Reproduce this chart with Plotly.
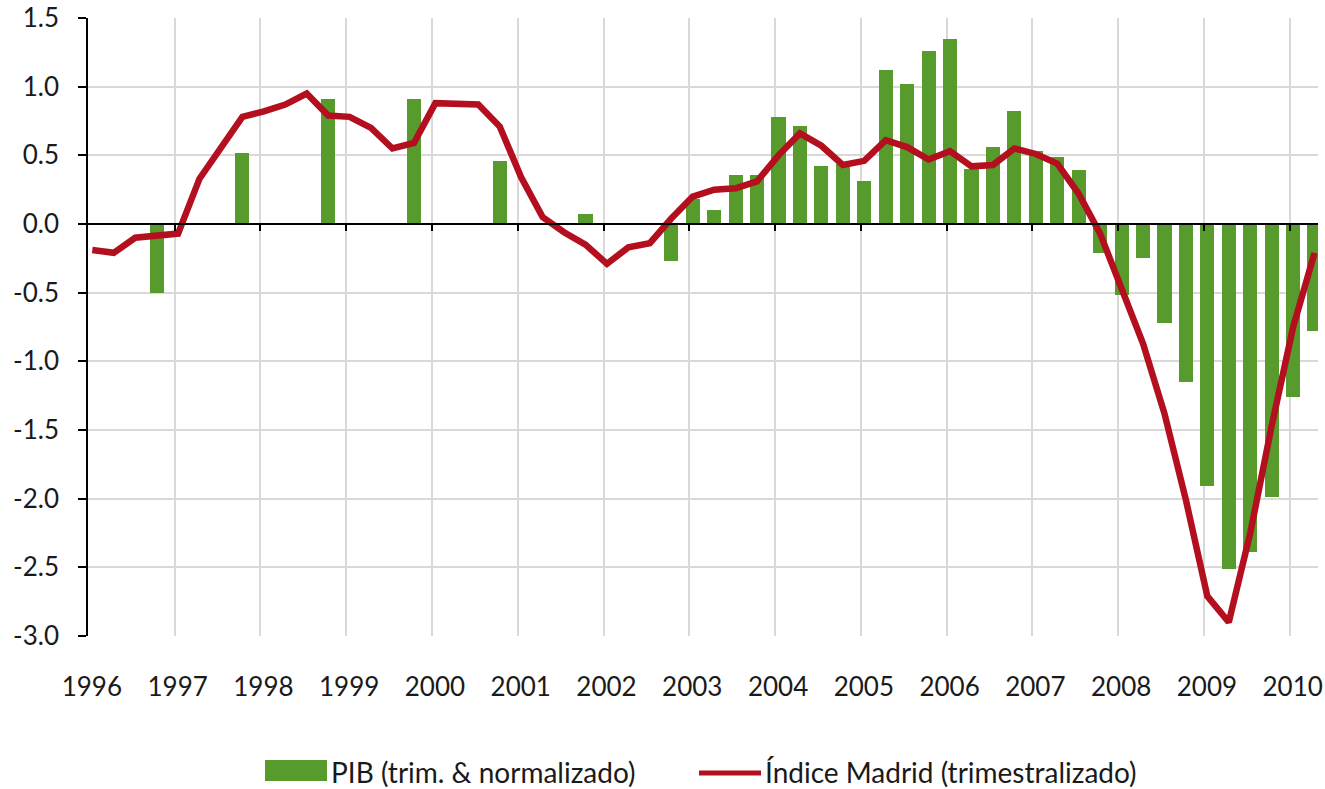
import plotly.graph_objects as go

# ---------------- data ----------------
quarters = [f"{y}Q{q}" for y in range(1996, 2011) for q in range(1, 5)][:58]

madrid = [
    -0.19, -0.21, -0.10, -0.08,   # 1996
    -0.07, 0.33, 0.56, 0.78,      # 1997
    0.82, 0.87, 0.95, 0.79,       # 1998
    0.78, 0.70, 0.55, 0.59,       # 1999
    0.88, 0.88, 0.87, 0.71,       # 2000
    0.34, 0.05, -0.06, -0.15,     # 2001
    -0.29, -0.17, -0.14, 0.04,    # 2002
    0.20, 0.25, 0.26, 0.31,       # 2003
    0.50, 0.66, 0.57, 0.43,       # 2004
    0.46, 0.61, 0.56, 0.47,       # 2005
    0.53, 0.42, 0.43, 0.55,       # 2006
    0.51, 0.44, 0.22, -0.07,      # 2007
    -0.46, -0.87, -1.38, -2.01,   # 2008
    -2.71, -2.90, -2.25, -1.47,   # 2009
    -0.75, -0.21,                 # 2010
]

pib = [
    None, None, None, -0.50,      # 1996
    None, None, None, 0.52,       # 1997
    None, None, None, 0.91,       # 1998
    None, None, None, 0.91,       # 1999
    None, None, None, 0.46,       # 2000
    None, None, None, 0.07,       # 2001
    None, None, None, -0.27,      # 2002
    0.18, 0.10, 0.36, 0.36,       # 2003
    0.78, 0.71, 0.42, 0.44,       # 2004
    0.31, 1.12, 1.02, 1.26,       # 2005
    1.35, 0.40, 0.56, 0.82,       # 2006
    0.53, 0.49, 0.39, -0.21,      # 2007
    -0.52, -0.25, -0.72, -1.15,   # 2008
    -1.91, -2.51, -2.39, -1.99,   # 2009
    -1.26, -0.78,                 # 2010
]

year_ticks = list(range(1996, 2011))
y_ticks = [1.5, 1.0, 0.5, 0.0, -0.5, -1.0, -1.5, -2.0, -2.5, -3.0]
y_ticktext = [f"{v:.1f}" for v in y_ticks]  # plain hyphen minus, as in the original

name_pib = "PIB (trim. & normalizado)"
name_madrid = "Índice Madrid (trimestralizado)"

# ---------------- styling ----------------
GREEN = "#579B2D"
RED = "#B30F1E"
GRID = "#D9D9D9"
TXT = "#1a1a1a"
FONT = "Lato"

W, H = 1325, 789
L, R, T, B = 88, 7, 18, 153
plot_w = W - L - R
plot_h = H - T - B

QOFF = 0.04  # data points sit slightly after the quarter start on the date axis


def qx(label):
    y, q = label.split("Q")
    return int(y) + (int(q) - 1) * 0.25 + QOFF


xs = [qx(q) for q in quarters]
xrange_ = [1995.99, 2010.33]

fig = go.Figure()
fig.add_trace(go.Bar(
    x=xs, y=pib, name=name_pib, marker=dict(color=GREEN, line=dict(width=0)),
    width=0.165, xaxis="x", yaxis="y", showlegend=False,
))
fig.add_trace(go.Scatter(
    x=xs, y=madrid, name=name_madrid, mode="lines",
    line=dict(color=RED, width=6.5), xaxis="x2", yaxis="y", showlegend=False,
))


def px_x(p):
    return (p - L) / plot_w


def px_y(p):
    return (H - B - p) / plot_h


# custom legend (matching the wide swatches of the original)
shapes = [
    dict(type="rect", xref="paper", yref="paper",
         x0=px_x(265), x1=px_x(327), y0=px_y(781), y1=px_y(760),
         fillcolor=GREEN, line=dict(width=0)),
    dict(type="line", xref="paper", yref="paper",
         x0=px_x(699), x1=px_x(761), y0=px_y(773), y1=px_y(773),
         line=dict(color=RED, width=5)),
]
annotations = [
    dict(text=name_pib, xref="paper", yref="paper", x=px_x(329), y=px_y(772),
         xanchor="left", yanchor="middle", showarrow=False,
         font=dict(family=FONT, size=28, color=TXT)),
    dict(text=name_madrid, xref="paper", yref="paper", x=px_x(763), y=px_y(772),
         xanchor="left", yanchor="middle", showarrow=False,
         font=dict(family=FONT, size=28, color=TXT)),
]

fig.update_layout(
    width=W, height=H,
    margin=dict(l=L, r=R, t=T, b=B, autoexpand=False),
    paper_bgcolor="white", plot_bgcolor="white",
    font=dict(family=FONT, size=26, color=TXT),
    showlegend=False,
    bargap=0,
    xaxis=dict(
        range=xrange_, tickmode="array", tickvals=year_ticks,
        ticktext=[str(y) for y in year_ticks],
        showgrid=True, gridcolor=GRID, gridwidth=1.5,
        showline=False, zeroline=False, ticks="", automargin=False,
        ticklabelstandoff=33, ticklabelshift=3,
        tickfont=dict(family=FONT, size=26, color=TXT),
    ),
    xaxis2=dict(
        range=xrange_, overlaying="x", anchor="free", position=3.0 / 4.5,
        side="bottom", tickmode="array", tickvals=year_ticks[1:],
        showgrid=False, showticklabels=False, zeroline=False, automargin=False,
        showline=True, linecolor="black", linewidth=1.5,
        ticks="outside", ticklen=6, tickcolor="black", tickwidth=1.5,
    ),
    yaxis=dict(
        range=[-3.0, 1.5], tickmode="array", tickvals=y_ticks, ticktext=y_ticktext,
        showgrid=True, gridcolor=GRID, gridwidth=1.5, automargin=False,
        zeroline=False, showline=True, linecolor="black", linewidth=1.5,
        ticks="outside", ticklen=8, tickcolor="black", tickwidth=1.5,
        ticklabelstandoff=14,
        tickfont=dict(family=FONT, size=26, color=TXT),
    ),
    shapes=shapes,
    annotations=annotations,
)

fig.write_html(
    "out.html",
    config={"displayModeBar": False},
    post_script="document.body.style.margin='0';document.body.style.overflow='hidden';",
)
